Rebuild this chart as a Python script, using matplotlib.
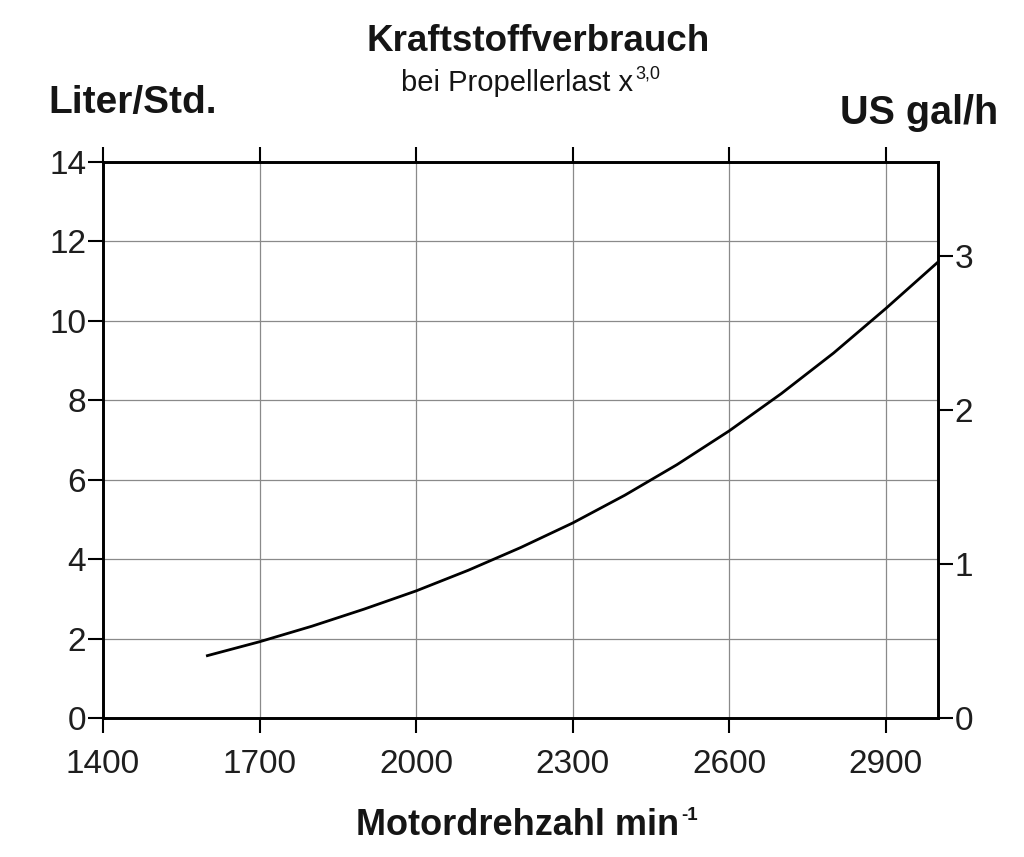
import matplotlib
matplotlib.use('Agg')
import matplotlib.pyplot as plt

plt.rcParams['font.family'] = ['Liberation Sans', 'DejaVu Sans']

# values
rpm = [1600, 1700, 1800, 1900, 2000, 2100, 2200, 2300, 2400, 2500,
       2600, 2700, 2800, 2900, 3000]
liter_h = [1.57, 1.92, 2.31, 2.74, 3.20, 3.72, 4.29, 4.91, 5.61, 6.38,
           7.23, 8.17, 9.19, 10.31, 11.48]

x_ticks = [1400, 1700, 2000, 2300, 2600, 2900]
y_ticks = [0, 2, 4, 6, 8, 10, 12, 14]
gal_ticks = [0, 1, 2, 3]
gal_top = 3.61  # right scale top as drawn in the reference

fig = plt.figure(figsize=(10.24, 8.57), dpi=100)
ax = fig.add_axes([0.1006, 0.1622, 0.8154, 0.6488])

ax.plot(rpm, liter_h, color='black', lw=2.0, solid_joinstyle='round', zorder=3)

ax.set_xlim(1400, 3000)
ax.set_ylim(0, 14)
ax.set_xticks(x_ticks)
ax.set_yticks(y_ticks)
ax.grid(True, color='#8a8a8a', lw=0.9)
ax.set_axisbelow(True)

for s in ax.spines.values():
    s.set_linewidth(1.9)
    s.set_color('black')

ax.tick_params(axis='x', direction='out', length=11, width=1.5, pad=11,
               labelsize=24, top=True, colors='black')
ax.tick_params(axis='y', direction='out', length=11, width=1.5, pad=1,
               labelsize=24, colors='black')
for lab in ax.get_xticklabels() + ax.get_yticklabels():
    lab.set_color('#1e1e1e')

ax2 = ax.twinx()
ax2.set_ylim(0, gal_top)
ax2.set_yticks(gal_ticks)
ax2.tick_params(axis='y', direction='out', length=11, width=1.5, pad=1,
                labelsize=24, colors='black')
for lab in ax2.get_yticklabels():
    lab.set_color('#1e1e1e')
for s in ax2.spines.values():
    s.set_linewidth(1.9)

fig.text(0.526, 0.952, 'Kraftstoffverbrauch', ha='center', va='center',
         fontsize=26.5, fontweight='bold', color='#151515')

# subtitle with superscript
sub = fig.text(0.392, 0.903, 'bei Propellerlast x', ha='left', va='center',
               fontsize=21, color='#151515')
ax.annotate('3,0', xy=(1, 1), xycoords=sub, xytext=(1, 2.5),
            textcoords='offset points', ha='left', va='top',
            fontsize=13, color='#151515')

fig.text(0.047, 0.880, 'Liter/Std.', ha='left', va='center',
         fontsize=28, fontweight='bold', color='#151515')
fig.text(0.975, 0.868, 'US gal/h', ha='right', va='center',
         fontsize=28.5, fontweight='bold', color='#151515')

# x label with superscript
xl = fig.text(0.348, 0.037, 'Motordrehzahl min', ha='left', va='center',
              fontsize=26, fontweight='bold', color='#151515')
ax.annotate('-1', xy=(1, 1), xycoords=xl, xytext=(1, 0.5),
            textcoords='offset points', ha='left', va='top',
            fontsize=13.5, fontweight='bold', color='#151515')

fig.savefig('out.png', dpi=100, facecolor='white')
